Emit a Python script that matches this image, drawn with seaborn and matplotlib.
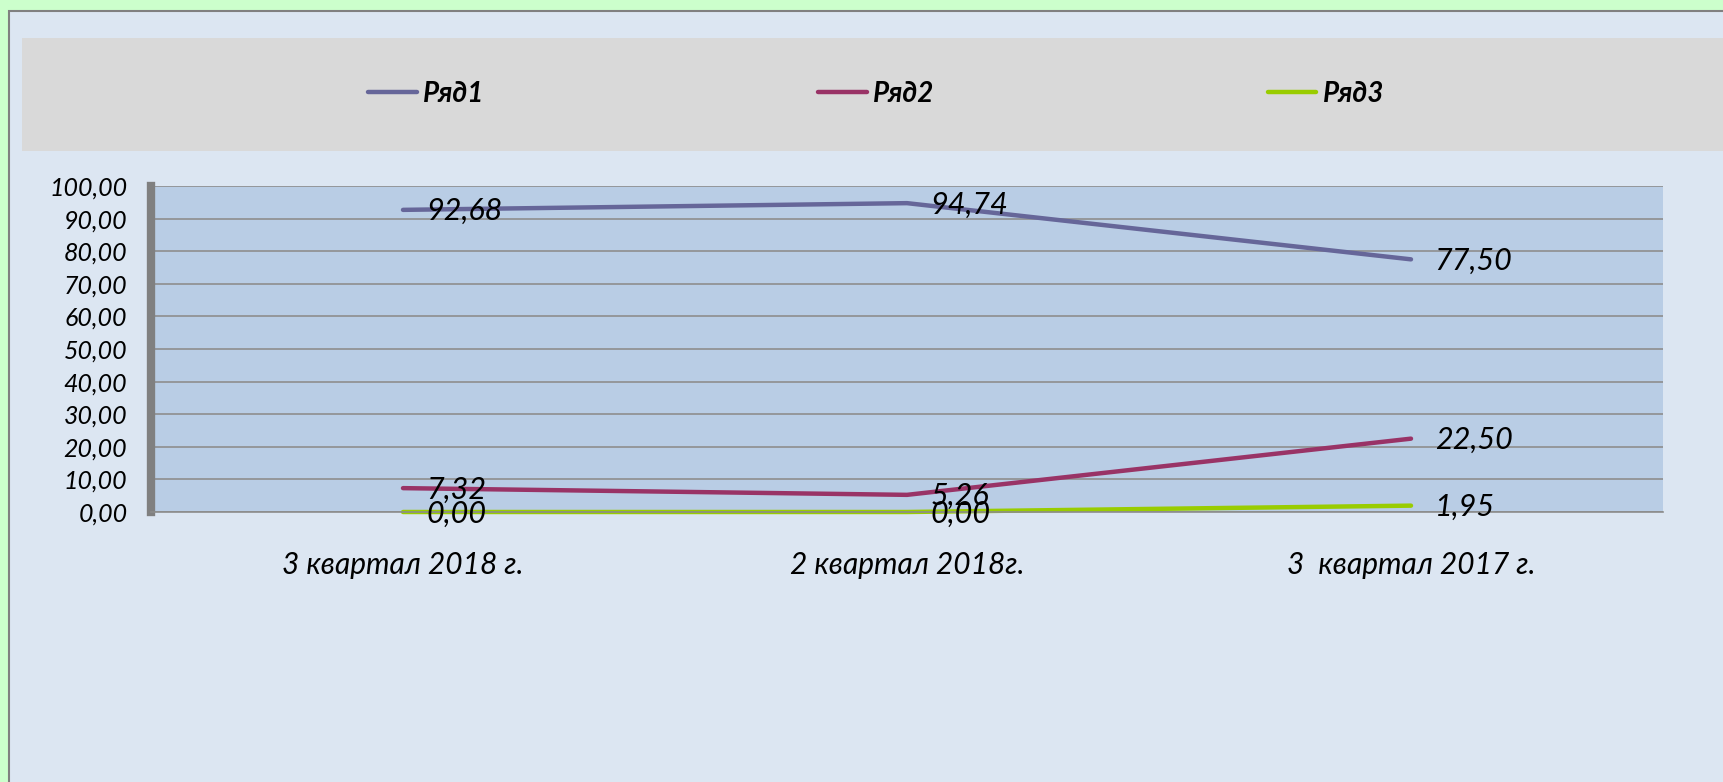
import pandas as pd
import numpy as np
import matplotlib.pyplot as plt
import seaborn as sns
from matplotlib.patches import Rectangle
from matplotlib.lines import Line2D


# Data

quarters = ["3 квартал 2018 г.", "2 квартал 2018г.", "3  квартал 2017 г."]
row1 = [92.68, 94.74, 77.50]
row2 = [7.32, 5.26, 22.50]
row3 = [0.00, 0.00, 1.95]
series_names = ["Ряд1", "Ряд2", "Ряд3"]
series_colors = ["#666699", "#993366", "#99CC00"]
y_ticks = [0, 10, 20, 30, 40, 50, 60, 70, 80, 90, 100]

df = pd.DataFrame({
    "quarter": quarters * 3,
    "value": row1 + row2 + row3,
    "series": [s for s in series_names for _ in quarters],
})


def comma(v):
    return f"{v:.2f}".replace(".", ",")


# Style

sns.set_style("white")
plt.rcParams["font.family"] = ["Lato", "DejaVu Sans"]
plt.rcParams["text.color"] = "black"
plt.rcParams["xtick.labelcolor"] = "black"
plt.rcParams["ytick.labelcolor"] = "black"

W, H = 1723, 782
fig = plt.figure(figsize=(W / 100, H / 100), dpi=100)
fig.patch.set_facecolor("#CCFFCC")

# chart area + legend band
fig.patches.append(Rectangle((9 / W, -0.05), 1.1, (H - 11) / H + 0.05,
                             transform=fig.transFigure, facecolor="#DCE6F2",
                             edgecolor="#808080", linewidth=1.5, zorder=-10))
fig.patches.append(Rectangle((22 / W, (H - 151) / H), (W - 22) / W, 113 / H,
                             transform=fig.transFigure, facecolor="#D9D9D9",
                             edgecolor="none", zorder=-9))


# Plot

ax = fig.add_axes([151 / W, (H - 512) / H, (1663 - 151) / W, (512 - 186) / H])
ax.set_facecolor("#B9CDE5")

sns.lineplot(data=df, x="quarter", y="value", hue="series",
             palette=series_colors, linewidth=3.2, sort=False,
             legend=False, ax=ax)
for line in ax.lines:
    line.set_solid_capstyle("round")
    line.set_clip_on(False)

ax.set_xlim(-0.5, 2.5)
ax.set_ylim(0, 100)
ax.set_xlabel("")
ax.set_ylabel("")

ax.set_yticks(y_ticks)
ax.set_yticklabels([comma(t) for t in y_ticks], fontsize=18, fontstyle="italic")
ax.set_xticks(range(len(quarters)))
ax.set_xticklabels(quarters, fontsize=21.5, fontstyle="italic")
ax.set_xticks([-0.5, 0.5, 1.5, 2.5], minor=True)

ax.yaxis.grid(True, color="#8E8E8E", linewidth=1.2)
ax.xaxis.grid(False)
ax.set_axisbelow(True)

ax.spines["top"].set_visible(False)
ax.spines["right"].set_visible(False)
ax.spines["left"].set_color("#808080")
ax.spines["left"].set_linewidth(6)
ax.spines["bottom"].set_color("#8C8C8C")
ax.spines["bottom"].set_linewidth(1.2)

ax.tick_params(axis="y", length=6, width=3, color="#808080", pad=11)
ax.tick_params(axis="x", which="major", length=0, pad=28)
ax.tick_params(axis="x", which="minor", length=7, width=1, color="#8C8C8C")

# data labels
for values in [row1, row2, row3]:
    for i, v in enumerate(values):
        ax.annotate(comma(v), xy=(i, v), xytext=(17, -1),
                    textcoords="offset points", ha="left", va="center",
                    fontsize=22, fontstyle="italic", color="black",
                    annotation_clip=False)

# legend
handles = [Line2D([], [], color=c, linewidth=3.2, solid_capstyle="round")
           for c in series_colors]
fig.legend(handles, series_names, loc="center",
           bbox_to_anchor=(876 / W, (H - 94) / H), ncol=3, frameon=False,
           prop=dict(weight="bold", style="italic", size=20),
           handlelength=1.76, handletextpad=0.22, columnspacing=12)

fig.savefig("out.png", dpi=100)
